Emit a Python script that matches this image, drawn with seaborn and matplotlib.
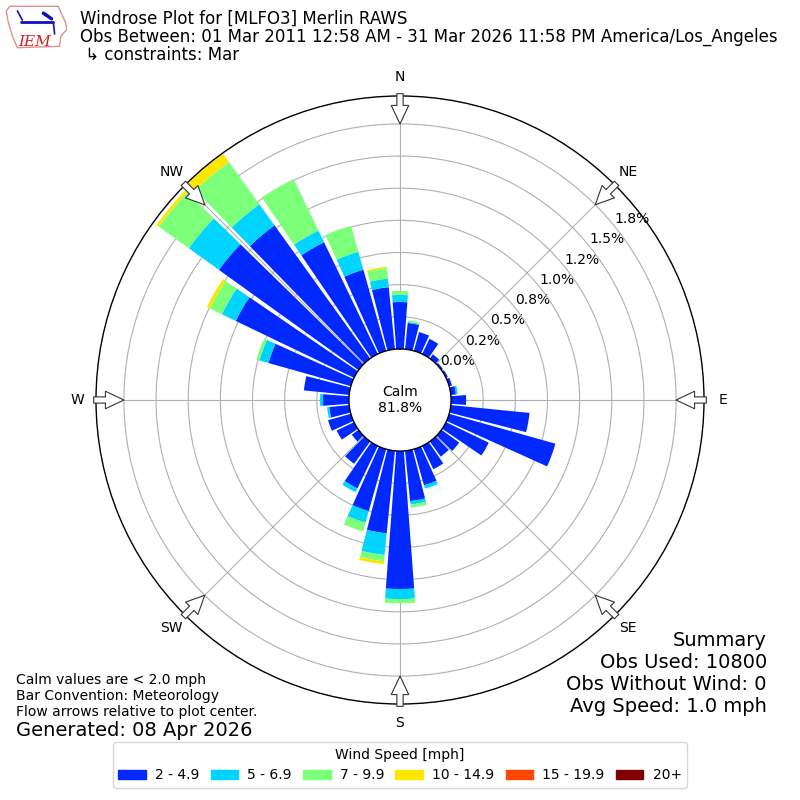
import numpy as np
import pandas as pd
import matplotlib
matplotlib.use("Agg")
import matplotlib.pyplot as plt
import seaborn as sns
from matplotlib.patches import Rectangle, Polygon

# -----------------------------------------------------------------------------
# 0. DATA  (percent of all obs, per 10 deg direction bin and speed bin)
# -----------------------------------------------------------------------------
directions = [0, 10, 20, 30, 40, 50, 60, 70, 80, 90, 100, 110,
              120, 130, 140, 150, 160, 170, 180, 190, 200, 210, 220, 230,
              240, 250, 260, 270, 280, 290, 300, 310, 320, 330, 340, 350]

speed_labels = ["2 - 4.9", "5 - 6.9", "7 - 9.9", "10 - 14.9", "15 - 19.9", "20+"]
speed_colors = ["#0028ff", "#00d4ff", "#7cff79", "#ffe600", "#ff4700", "#800000"]

spd_2_5 = [0.365, 0.205, 0.152, 0.131, 0.040, 0.015, 0.016, 0.023, 0.040, 0.117, 0.615, 0.858,
           0.369, 0.170, 0.145, 0.200, 0.292, 0.393, 1.073, 0.645, 0.500, 0.366, 0.214, 0.065,
           0.150, 0.184, 0.156, 0.202, 0.354, 0.665, 1.020, 1.337, 1.275, 0.964, 0.655, 0.485]
spd_5_7 = [0.055, 0.008, 0.000, 0.000, 0.000, 0.000, 0.000, 0.000, 0.014, 0.000, 0.000, 0.000,
           0.000, 0.000, 0.000, 0.000, 0.027, 0.027, 0.078, 0.169, 0.094, 0.033, 0.000, 0.000,
           0.000, 0.000, 0.017, 0.023, 0.000, 0.074, 0.120, 0.288, 0.202, 0.101, 0.145, 0.067]
spd_7_10 = [0.031, 0.012, 0.000, 0.000, 0.000, 0.000, 0.000, 0.000, 0.000, 0.000, 0.000, 0.000,
            0.000, 0.000, 0.000, 0.000, 0.000, 0.024, 0.033, 0.049, 0.070, 0.000, 0.000, 0.000,
            0.000, 0.000, 0.000, 0.000, 0.000, 0.023, 0.104, 0.288, 0.405, 0.444, 0.210, 0.082]
spd_10_15 = [0.000, 0.000, 0.000, 0.000, 0.000, 0.000, 0.000, 0.000, 0.000, 0.000, 0.000, 0.000,
             0.000, 0.000, 0.000, 0.000, 0.000, 0.000, 0.000, 0.023, 0.000, 0.000, 0.000, 0.000,
             0.000, 0.000, 0.000, 0.000, 0.000, 0.000, 0.026, 0.023, 0.078, 0.000, 0.000, 0.011]
spd_15_20 = [0.0, 0.0, 0.0, 0.0, 0.0, 0.0, 0.0, 0.0, 0.0, 0.0, 0.0, 0.0,
             0.0, 0.0, 0.0, 0.0, 0.0, 0.0, 0.0, 0.0, 0.0, 0.0, 0.0, 0.0,
             0.0, 0.0, 0.0, 0.0, 0.0, 0.0, 0.0, 0.0, 0.0, 0.0, 0.0, 0.0]
spd_20p = [0.0, 0.0, 0.0, 0.0, 0.0, 0.0, 0.0, 0.0, 0.0, 0.0, 0.0, 0.0,
           0.0, 0.0, 0.0, 0.0, 0.0, 0.0, 0.0, 0.0, 0.0, 0.0, 0.0, 0.0,
           0.0, 0.0, 0.0, 0.0, 0.0, 0.0, 0.0, 0.0, 0.0, 0.0, 0.0, 0.0]

compass_angles = [0, 45, 90, 135, 180, 225, 270, 315]
compass_labels = ["N", "NE", "E", "SE", "S", "SW", "W", "NW"]
r_ticks = [0.0, 0.25, 0.5, 0.75, 1.0, 1.25, 1.5, 1.75]
r_labels = ["0.0%", "0.2%", "0.5%", "0.8%", "1.0%", "1.2%", "1.5%", "1.8%"]

calm_pct = 81.8
title_lines = [
    "Windrose Plot for [MLFO3] Merlin RAWS",
    "Obs Between: 01 Mar 2011 12:58 AM - 31 Mar 2026 11:58 PM America/Los_Angeles",
    " \u21b3 constraints: Mar",
]
note_lines = ["Calm values are < 2.0 mph", "Bar Convention: Meteorology",
              "Flow arrows relative to plot center."]
generated = "Generated: 08 Apr 2026"
summary_lines = ["Summary", "Obs Used: 10800", "Obs Without Wind: 0", "Avg Speed: 1.0 mph"]

# -----------------------------------------------------------------------------
# 1. SETUP
# -----------------------------------------------------------------------------
sns.set_theme(style="white")
plt.rcParams["font.family"] = ["DejaVu Sans"]
plt.rcParams.update({"text.color": "black", "xtick.color": "black",
                     "ytick.color": "black", "axes.labelcolor": "black"})
palette = sns.color_palette(speed_colors)

df = pd.DataFrame({
    speed_labels[0]: spd_2_5, speed_labels[1]: spd_5_7, speed_labels[2]: spd_7_10,
    speed_labels[3]: spd_10_15, speed_labels[4]: spd_15_20, speed_labels[5]: spd_20p,
}, index=directions)
bottoms = df.cumsum(axis=1).shift(axis=1).fillna(0.0)

fig = plt.figure(figsize=(8, 8), dpi=100)
ax = fig.add_axes([0.12, 0.12, 0.76, 0.76], projection="polar")
ax.set_theta_zero_location("N")
ax.set_theta_direction(-1)

# -----------------------------------------------------------------------------
# 2. STACKED WIND ROSE BARS
# -----------------------------------------------------------------------------
theta = np.deg2rad(df.index.values)
width = np.deg2rad(8.6)
for i, lab in enumerate(speed_labels):
    ax.bar(theta, df[lab].values, width=width, bottom=bottoms[lab].values,
           color=palette[i], linewidth=0, label=lab, zorder=2)

ax.set_ylim(0, 1.967)
ax.set_rorigin(-0.397)
ax.set_thetagrids(compass_angles, labels=compass_labels, fontsize=10)
ax.tick_params(axis="x", pad=0.5, colors="black")
ax.set_yticks(r_ticks)
ax.set_yticklabels(r_labels, fontsize=10)
ax.set_rlabel_position(51)
ax.grid(True, color="#b0b0b0", linewidth=0.8, zorder=1)
for name, sp in ax.spines.items():
    sp.set_color("black")
    sp.set_linewidth(1.0)

ax.text(0.5, 0.5, f"Calm\n{calm_pct:.1f}%", transform=ax.transAxes,
        ha="center", va="center", fontsize=10, zorder=5)

# flow arrows on compass points
for ang in compass_angles:
    ax.annotate("", xy=(np.deg2rad(ang), 1.75), xytext=(np.deg2rad(ang), 1.985),
                xycoords="data", annotation_clip=False,
                arrowprops=dict(arrowstyle="simple,head_length=0.95,head_width=0.9,tail_width=0.32",
                                mutation_scale=14, fc="white", ec="#333333", lw=0.8,
                                shrinkA=0, shrinkB=0), zorder=6)

# -----------------------------------------------------------------------------
# 3. TEXT, LOGO, LEGEND
# -----------------------------------------------------------------------------
for k, line in enumerate(title_lines):
    fig.text(80 / 800, 1 - (19 + 18 * k) / 800, line, ha="left", va="center", fontsize=12)

for k, line in enumerate(note_lines):
    fig.text(16 / 800, 1 - (680 + 16 * k) / 800, line, ha="left", va="center", fontsize=10)
fig.text(16 / 800, 1 - 730 / 800, generated, ha="left", va="center", fontsize=14)

for k, line in enumerate(summary_lines):
    fig.text(767 / 800, 1 - (640 + 22 * k) / 800, line, ha="right", va="center", fontsize=14)

# IEM logo, roughly
lax = fig.add_axes([5 / 800, 1 - 50 / 800, 62 / 800, 46 / 800])
lax.set_xlim(0, 1)
lax.set_ylim(0, 1)
lax.set_axis_off()
iowa = [(0.08, 0.95), (0.86, 0.95), (0.9, 0.82), (0.97, 0.62), (1.0, 0.45), (0.9, 0.3),
        (0.88, 0.08), (0.2, 0.05), (0.12, 0.3), (0.05, 0.62), (0.02, 0.85)]
lax.add_patch(Polygon(iowa, closed=True, fill=False, ec="#e09090", lw=1.0))
lax.plot([0.25, 0.78], [0.6, 0.6], color="#1010c0", lw=2)
lax.plot([0.2, 0.28], [0.85, 0.65], color="#1010c0", lw=1.2)
lax.plot([0.62, 0.75], [0.8, 0.68], color="#1010c0", lw=2.5)
lax.plot([0.78, 0.8], [0.6, 0.35], color="#1010c0", lw=1.2)
lax.text(0.48, 0.18, "IEM", ha="center", va="center", fontsize=11, color="#d02020",
         style="italic", family="DejaVu Serif")

handles = [Rectangle((0, 0), 1, 1, color=palette[i]) for i in range(len(speed_labels))]
leg = fig.legend(handles, speed_labels, loc="center", bbox_to_anchor=(400 / 800, 1 - 765 / 800),
                 ncol=6, title="Wind Speed [mph]", fontsize=10, title_fontsize=10,
                 handlelength=2.0, handleheight=0.7, columnspacing=0.8, handletextpad=0.65,
                 frameon=True, fancybox=True, borderpad=0.4)
leg.get_frame().set_edgecolor("#cccccc")

fig.savefig("out.png", dpi=100)
